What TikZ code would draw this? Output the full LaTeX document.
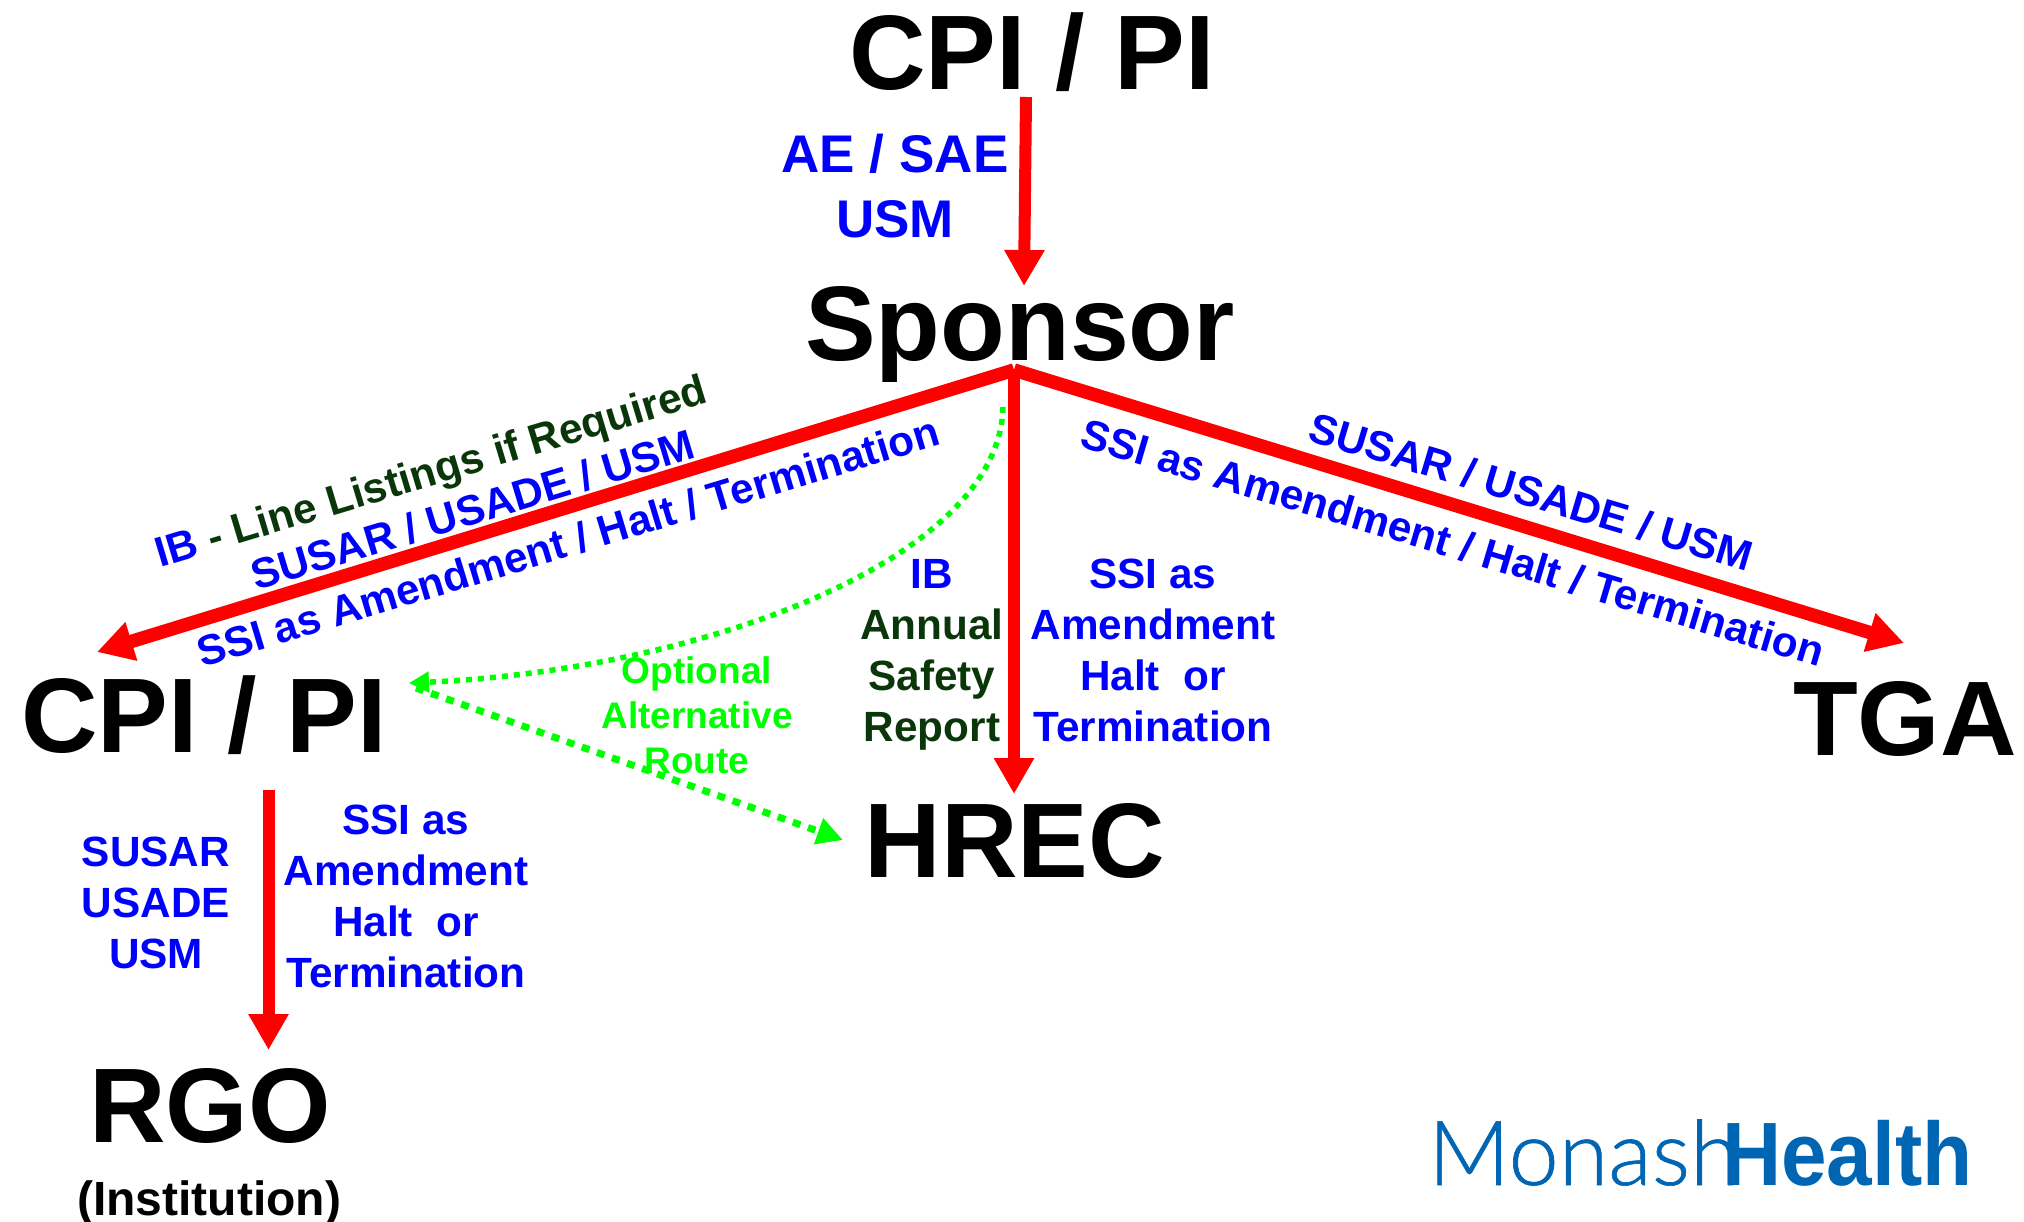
\documentclass[tikz,border=0pt]{standalone}
\usepackage{fontspec}
\setmainfont{Liberation Sans}
\usetikzlibrary{arrows.meta,calc}
\definecolor{lblblue}{RGB}{0,0,255}
\definecolor{lblgreen}{RGB}{10,55,10}
\definecolor{altgreen}{RGB}{0,255,0}
\definecolor{arrowred}{RGB}{255,0,0}
\definecolor{logoblue}{RGB}{0,102,179}
\newfontfamily\logolight[RawFeature={embolden=0.7}]{Lato Light}
\tikzset{
  title/.style={font=\fontsize{106}{120}\selectfont\bfseries,text=black,inner sep=0pt,anchor=base},
  lbl/.style={font=\fontsize{42.3}{51}\selectfont\bfseries,text=lblblue,inner sep=0pt,anchor=base,align=center},
  tilted/.style={font=\fontsize{42.3}{51}\selectfont\bfseries,text=lblblue,inner sep=0pt,anchor=base},
  redarrow/.style={draw=arrowred,line width=12pt,-{Triangle[length=36pt,width=38pt]}},
  reddiag/.style={redarrow,line width=13.5pt},
  altline/.style={draw=altgreen,line width=7pt,dash pattern=on 8pt off 8pt,-{Triangle[length=26pt,width=26pt]}},
  altcurve/.style={draw=altgreen,line width=5.5pt,dash pattern=on 6pt off 6pt,-{Triangle[length=20pt,width=20pt]}},
}
\begin{document}
\begin{tikzpicture}[x=1pt,y=-1pt]
\useasboundingbox (0,0) rectangle (2024,1222);
% main titles
\node[title] (cpitop) at (1032,90) {CPI / PI};
\node[title] (sponsor) at (1020,361) {Sponsor};
\node[title] (cpileft) at (204,752) {CPI / PI};
\node[title] (tga) at (1905,755) {TGA};
\node[title] (hrec) at (1015,877) {HREC};
\node[title] (rgo) at (210,1142) {RGO};
\node[inner sep=0pt,anchor=base,font=\fontsize{48}{60}\selectfont\bfseries] (inst) at (209,1215) {(Institution)};
% red connectors
\draw[redarrow] ([shift={(-6,7)}]cpitop.base) -- ([shift={(4,-75)}]sponsor.base);
\draw[reddiag] ([shift={(-6,9)}]sponsor.base) -- ([shift={(-107,-100)}]cpileft.base);
\draw[reddiag] ([shift={(-6,9)}]sponsor.base) -- ([shift={(-1,-112)}]tga.base);
\draw[redarrow] ([shift={(-6,9)}]sponsor.base) -- ([shift={(-1,-83)}]hrec.base);
\draw[redarrow] ([shift={(64.5,38)}]cpileft.base) -- ([shift={(58.5,-92)}]rgo.base);
% green connectors
\draw[altcurve] ([shift={(-17,46)}]sponsor.base) .. controls +(-3,153) and (700,670) .. ([shift={(205,-69)}]cpileft.base);
\draw[altline] ([shift={(212,-64)}]cpileft.base) -- ([shift={(-172,-37)}]hrec.base);
% labels
\node[lbl,font=\fontsize{53}{65}\selectfont\bfseries] (aesae) at (895,238) {AE / SAE\\USM};
\node[lbl] (ibcol) at (932,741) {IB\\\textcolor{lblgreen}{Annual}\\\textcolor{lblgreen}{Safety}\\\textcolor{lblgreen}{Report}};
\node[lbl] (ssicol) at (1153,741) {SSI as\\Amendment\\Halt\ \ or\\Termination};
\node[lbl] (susarcol) at (156,968) {SUSAR\\USADE\\USM};
\node[lbl] (ssicolb) at (406,987) {SSI as\\Amendment\\Halt\ \ or\\Termination};
\node[lbl,text=altgreen,font=\fontsize{37}{45}\selectfont\bfseries] (optional) at (697,773) {Optional\\Alternative\\Route};
% tilted labels
\node[tilted,rotate=16.8] (leftib) at (435,485) {IB \textcolor{lblgreen}{- Line Listings if Required}};
\node[tilted,rotate=16.8] (leftsusar) at (477,524) {SUSAR / USADE / USM};
\node[tilted,rotate=16.8] (leftssi) at (572,556) {SSI as Amendment / Halt / Termination};
\node[tilted,rotate=-16.6] (rightsusar) at (1527,506) {SUSAR / USADE / USM};
\node[tilted,rotate=-16.6] (rightssi) at (1449,557) {SSI as Amendment / Halt / Termination};
% logo
\node[inner sep=0pt,anchor=base west,text=logoblue,font=\fontsize{90}{100}\selectfont] (logoa) at (1428,1185) {\logolight Monash};
\node[inner sep=0pt,anchor=base west,text=logoblue,font=\fontsize{90}{100}\selectfont\bfseries] (logob) at (1722,1185) {\scalebox{0.91}[1]{Health}};
\end{tikzpicture}
\end{document}
